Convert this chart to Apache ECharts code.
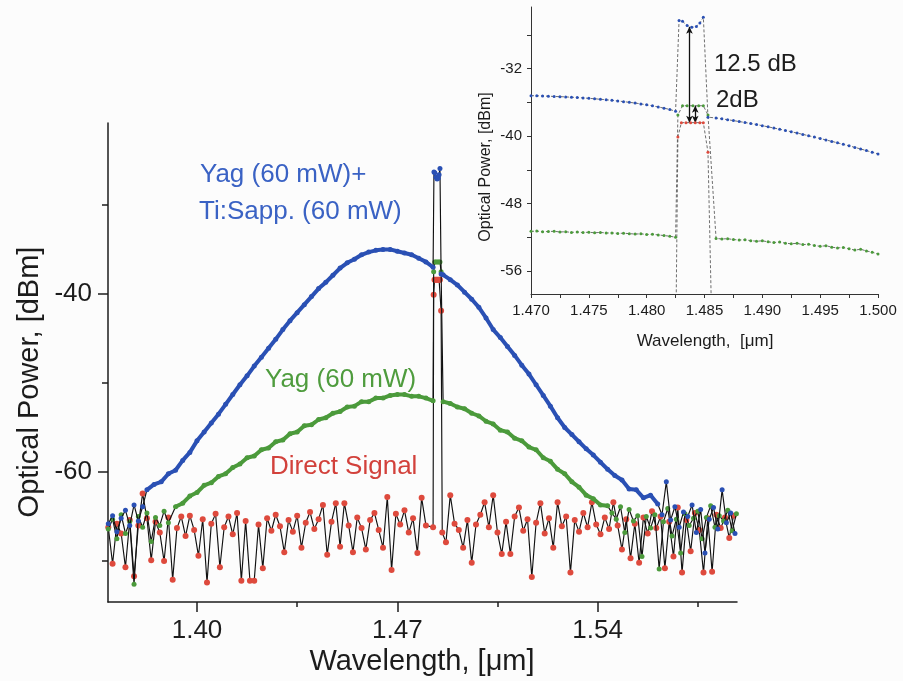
<!DOCTYPE html>
<html>
<head>
<meta charset="utf-8">
<script src="https://cdn.jsdelivr.net/npm/echarts@6/dist/echarts.min.js"></script>
<style>
  html, body { margin: 0; padding: 0; background: #fcfcfc; }
  #chart { width: 903px; height: 681px; }
</style>
</head>
<body>
<div id="chart"></div>
<script>
// ---- Measured spectra (wavelength in µm, power in dBm) ----
// Sampled traces are stored as start wavelength, step and readings.

// Direct signal (pump off): noise floor left and right of the signal line
const redNoiseL = { start: 1.3690, step: 0.0015, values: [
  -66.2, -70.3, -65.8, -66.9, -70.7, -65.4, -71.7, -66.0, -62.4, -65.2,
  -69.9, -65.6, -66.8, -70.0, -65.1, -72.1, -66.3, -65.0, -67.2, -64.9,
  -66.5, -69.4, -65.3, -72.4, -65.8, -64.7, -70.7, -66.2, -65.0, -67.0,
  -64.6, -72.2, -65.5, -72.2, -72.2, -65.9, -70.8, -65.2, -66.6, -64.8,
  -66.1, -69.0, -65.4, -66.7, -64.9, -68.5, -65.7, -64.5, -66.4, -65.3,
  -63.7, -69.3, -65.6, -63.5, -68.4, -63.5, -66.0, -69.0, -65.1, -66.3,
  -68.7, -65.4, -64.6, -66.5, -68.5, -62.8, -71.0, -64.7, -65.9, -64.3,
  -66.8, -65.2, -69.1, -62.9, -66.0 ] };
const redNoiseR = { start: 1.4870, step: 0.0015, values: [
  -67.9, -62.6, -65.8, -66.5, -68.5, -65.4, -70.2, -65.9, -64.8, -63.4,
  -66.2, -62.6, -66.8, -69.2, -65.6, -69.2, -65.0, -64.0, -66.6, -65.3,
  -71.8, -65.7, -63.5, -66.9, -65.2, -68.5, -63.4, -66.1, -65.0, -71.3,
  -65.4, -66.7, -64.6, -66.2, -63.4, -65.9, -67.0, -65.1, -66.4, -63.4,
  -66.0, -68.7, -65.3, -69.7, -65.8, -70.2, -65.1, -66.9, -64.4, -66.3,
  -65.0, -70.8, -65.6, -69.5, -64.0, -71.3, -65.4, -68.9, -64.6, -66.5,
  -71.3, -65.2, -71.2, -64.8, -66.3, -65.1, -67.4, -64.9 ] };
const redSignal = [
  [1.4825, -66.2], [1.4827, -40.1], [1.4830, -38.4], [1.4834, -38.4],
  [1.4838, -38.4], [1.4842, -38.4], [1.4846, -38.4], [1.4849, -38.4],
  [1.4853, -41.9], [1.4857, -66.8] ];

// Yag (60 mW) pumped
const greenNoiseL = { start: 1.3690, step: 0.0015, values: [
  -66.4, -65.3, -67.5, -64.8, -66.9, -65.6, -72.6, -65.0, -66.2, -64.6,
  -67.8, -65.1, -66.0, -64.4, -65.7 ] };
const greenCurveL = { start: 1.3925, step: 0.0025, values: [
  -63.9, -63.5, -62.7, -62.3, -61.5, -61.2, -60.5, -60.2, -59.5, -59.1,
  -58.4, -58.2, -57.5, -57.3, -56.6, -56.4, -55.7, -55.5, -54.8, -54.7,
  -54.1, -53.9, -53.4, -53.2, -52.7, -52.6, -52.1, -52.1, -51.7, -51.7,
  -51.4, -51.3, -51.3, -51.5, -51.5, -51.7, -52.0 ] };
const greenSignal = [
  [1.4827, -37.5], [1.4831, -36.4], [1.4835, -36.4], [1.4840, -36.4],
  [1.4845, -36.4], [1.4849, -36.4], [1.4853, -37.5] ];
const greenCurveR = { start: 1.4860, step: 0.0025, values: [
  -52.1, -52.3, -52.7, -52.9, -53.4, -53.7, -54.3, -54.6, -55.3, -55.5,
  -56.2, -56.5, -57.2, -57.5, -58.4, -58.8, -59.7, -60.2, -61.1, -61.7,
  -62.6, -63.0, -63.7, -63.8 ] };
const greenNoiseR = { start: 1.5450, step: 0.0015, values: [
  -64.6, -65.3, -63.9, -66.8, -64.2, -65.5, -64.9, -69.5, -65.0, -66.3,
  -64.8, -70.9, -65.6, -64.1, -67.2, -65.3, -69.1, -64.7, -66.0, -65.2,
  -64.4, -67.5, -65.1, -63.8, -66.2, -64.9, -65.5, -64.3, -66.6, -64.7 ] };

// Yag (60 mW) + Ti:Sapp. (60 mW) pumped
const blueNoiseL = { start: 1.3690, step: 0.0015, values: [
  -65.8, -64.9, -66.7, -65.2, -64.3, -66.0, -63.7, -65.5, -63.9 ] };
const blueCurveL = { start: 1.3825, step: 0.0025, values: [
  -62.0, -61.4, -61.1, -60.2, -59.8, -58.7, -57.8, -56.5, -55.5, -54.5,
  -53.5, -52.4, -51.3, -50.2, -49.2, -48.1, -47.1, -46.1, -45.1, -44.0,
  -43.0, -42.1, -41.2, -40.3, -39.4, -38.7, -37.9, -37.1, -36.5, -36.1,
  -35.6, -35.3, -35.1, -35.0, -35.0, -35.2, -35.4, -35.6, -36.0, -36.4,
  -37.0 ] };
const blueSignal = [
  [1.4828, -26.3], [1.4831, -26.4], [1.4835, -26.9], [1.4839, -27.1],
  [1.4843, -27.0], [1.4846, -26.6], [1.4849, -25.9], [1.4853, -37.75] ];
const blueCurveR = { start: 1.4860, step: 0.0025, values: [
  -37.85, -38.4, -39.0, -39.8, -40.6, -41.5, -42.7, -44.0, -44.9, -45.9,
  -46.9, -48.0, -49.0, -50.2, -51.4, -52.6, -53.9, -55.0, -55.8, -56.6,
  -57.4, -58.1, -58.9, -59.7, -60.4, -60.9, -61.9, -62.0, -62.9, -62.6,
  -63.6 ] };
const blueNoiseR = { start: 1.5625, step: 0.0015, values: [
  -64.8, -61.1, -65.4, -63.9, -66.2, -64.5, -65.0, -63.7, -66.8, -64.2,
  -69.1, -65.3, -64.0, -66.4, -62.0, -65.7, -64.6, -66.9 ] };

// Close-up around the signal line (finer sampling)
const insetBlueL = { start: 1.4700, step: 0.0005, values: [
  -35.20, -35.22, -35.25, -35.26, -35.30, -35.32, -35.35, -35.39, -35.42, -35.47,
  -35.52, -35.57, -35.63, -35.69, -35.76, -35.83, -35.91, -35.99, -36.08, -36.18,
  -36.29, -36.41, -36.54, -36.68, -36.84, -37.05 ] };
const insetBlueR = { start: 1.4860, step: 0.0005, values: [
  -37.85, -37.95, -38.05, -38.16, -38.27, -38.38, -38.50, -38.63, -38.76, -38.90,
  -39.04, -39.18, -39.33, -39.48, -39.63, -39.79, -39.95, -40.11, -40.28, -40.45,
  -40.62, -40.79, -40.97, -41.15, -41.33, -41.52, -41.71, -41.90, -42.10 ] };
const insetGreenL = { start: 1.4700, step: 0.0005, values: [
  -51.28, -51.25, -51.32, -51.30, -51.27, -51.35, -51.33, -51.40, -51.36, -51.42,
  -51.38, -51.45, -51.40, -51.48, -51.46, -51.52, -51.50, -51.55, -51.60, -51.57,
  -51.65, -51.62, -51.70, -51.78, -51.85, -51.98 ] };
const insetGreenR = { start: 1.4860, step: 0.0005, values: [
  -52.12, -52.18, -52.15, -52.25, -52.30, -52.28, -52.38, -52.45, -52.40, -52.52,
  -52.60, -52.55, -52.68, -52.75, -52.70, -52.85, -52.80, -52.95, -53.05, -52.98,
  -53.15, -53.25, -53.18, -53.35, -53.50, -53.40, -53.60, -53.75, -53.95 ] };

// Annotated levels: direct-signal top, gain arrows
const redTop = -38.4;
const gainTotal = 12.5;   // dB, to the Yag + Ti:Sapp. peak
const gainYag = 2;        // dB, to the Yag-only level
const arrowLongX = 1.4837;
const arrowShortX = 1.4842;
const blueAtArrow = -27.05;

// Axis ticks and labels
const mainXLabels = [1.40, 1.47, 1.54];
const mainXMinor = [1.435, 1.505, 1.575];
const mainYLabels = [-60, -40];
const mainYMinor = [-70, -50, -30];
const insetXTicks = [1.470, 1.4725, 1.475, 1.4775, 1.480, 1.4825, 1.485, 1.4875, 1.490, 1.4925, 1.495, 1.4975, 1.500];
const insetXLabels = [1.470, 1.475, 1.480, 1.485, 1.490, 1.495, 1.500];
const insetYTicks = [-56, -52, -48, -44, -40, -36, -32, -28];
const insetYLabels = [-56, -48, -40, -32];

// ---- Helpers ----
function pairs(trace) {
  return trace.values.map((v, i) => [+(trace.start + i * trace.step).toFixed(5), v]);
}

const FONT = '"Liberation Sans", Arial, Helvetica, sans-serif';
const INK = '#1c1c1c';
const BLUE = '#2a50b4';
const GREEN = '#4b9a3b';
const RED = '#de4a3d';
const BLUE_TXT = '#3a62c4';
const GREEN_TXT = '#4f9c3e';
const RED_TXT = '#d2413b';

const redMain = pairs(redNoiseL).concat(redSignal, pairs(redNoiseR));
const greenMain = pairs(greenNoiseL).concat(pairs(greenCurveL), greenSignal, pairs(greenCurveR), pairs(greenNoiseR));
const blueMain = pairs(blueNoiseL).concat(pairs(blueCurveL), blueSignal, pairs(blueCurveR), pairs(blueNoiseR));

const insetBlue = pairs(insetBlueL).concat(blueSignal, pairs(insetBlueR));
const insetGreen = pairs(insetGreenL).concat(greenSignal, pairs(insetGreenR));

function trace(data, color, size, z) {
  return {
    type: 'line', xAxisIndex: 0, yAxisIndex: 0, data: data, z: z,
    symbol: 'circle', symbolSize: size, showAllSymbol: true,
    itemStyle: { color: color, borderWidth: 0 },
    lineStyle: { color: '#111', width: 1.15 },
    animation: false, silent: true
  };
}
function curve(data, color, z) {
  return {
    type: 'line', xAxisIndex: 0, yAxisIndex: 0, data: data, z: z,
    showSymbol: false, lineStyle: { color: color, width: 4 },
    animation: false, silent: true
  };
}
function zoomTrace(data, color, extra) {
  return Object.assign({
    type: 'line', xAxisIndex: 2, yAxisIndex: 2, data: data, z: 5,
    symbol: 'circle', symbolSize: 3, showAllSymbol: true,
    itemStyle: { color: color, borderWidth: 0 },
    lineStyle: { color: '#4a4a4a', width: 0.8, type: [3, 2] },
    animation: false, silent: true
  }, extra || {});
}

function text(x, y, str, size, color, rotate, align) {
  return {
    type: 'text', x: x, y: y, rotation: rotate ? Math.PI / 2 : 0, z: 10,
    style: {
      text: str, font: size + 'px ' + FONT, fill: color,
      align: align || 'center', verticalAlign: 'middle',
      textAlign: align || 'center', textVerticalAlign: 'middle'
    }
  };
}

const axisLineMain = { show: true, lineStyle: { color: INK, width: 1.5 } };
const axisLineInset = { show: true, lineStyle: { color: '#333', width: 1 } };

const option = {
  backgroundColor: '#fcfcfc',
  animation: false,
  grid: [
    { left: 108, top: 123, width: 629, height: 479 },
    { left: 531, top: 7, width: 347, height: 287 }
  ],
  xAxis: [
    { type: 'value', gridIndex: 0, min: 1.3689, max: 1.5887, position: 'bottom',
      axisLine: axisLineMain,
      axisTick: { customValues: mainXLabels, length: 10, lineStyle: { color: INK, width: 1.5 } },
      axisLabel: { customValues: mainXLabels, formatter: v => v.toFixed(2), fontSize: 26,
                   fontFamily: FONT, color: INK, margin: 16 },
      splitLine: { show: false } },
    { type: 'value', gridIndex: 0, min: 1.3689, max: 1.5887, position: 'bottom',
      axisLine: { show: false },
      axisTick: { customValues: mainXMinor, length: 5, lineStyle: { color: INK, width: 1.5 } },
      axisLabel: { show: false }, splitLine: { show: false } },
    { type: 'value', gridIndex: 1, min: 1.470, max: 1.500, position: 'bottom',
      axisLine: axisLineInset,
      axisTick: { customValues: insetXTicks, length: 4, lineStyle: { color: '#333' } },
      axisLabel: { customValues: insetXLabels, formatter: v => v.toFixed(3), fontSize: 15,
                   fontFamily: FONT, color: INK, margin: 9 },
      splitLine: { show: false } }
  ],
  yAxis: [
    { type: 'value', gridIndex: 0, min: -74.6, max: -20.8, position: 'left',
      axisLine: axisLineMain,
      axisTick: { customValues: mainYLabels, length: 10, lineStyle: { color: INK, width: 1.5 } },
      axisLabel: { customValues: mainYLabels, fontSize: 26, fontFamily: FONT, color: INK, margin: 16 },
      splitLine: { show: false } },
    { type: 'value', gridIndex: 0, min: -74.6, max: -20.8, position: 'left',
      axisLine: { show: false },
      axisTick: { customValues: mainYMinor, length: 6, lineStyle: { color: INK, width: 1.5 } },
      axisLabel: { show: false }, splitLine: { show: false } },
    { type: 'value', gridIndex: 1, min: -58.7, max: -24.7, position: 'left',
      axisLine: axisLineInset,
      axisTick: { customValues: insetYTicks, length: 4, lineStyle: { color: '#333' } },
      axisLabel: { customValues: insetYLabels, fontSize: 15, fontFamily: FONT, color: INK, margin: 9 },
      splitLine: { show: false } }
  ],
  series: [
    trace(redMain, RED, 6, 2),
    trace(greenMain, GREEN, 5, 3),
    curve(pairs(greenCurveL), GREEN, 4),
    curve(pairs(greenCurveR), GREEN, 4),
    trace(blueMain, BLUE, 5, 5),
    curve(pairs(blueCurveL), BLUE, 6),
    curve(pairs(blueCurveR), BLUE, 6),

    zoomTrace(insetGreen, GREEN),
    zoomTrace(insetBlue, BLUE),
    zoomTrace(redSignal, RED, {
      markLine: {
        silent: true, animation: false,
        symbol: ['arrow', 'arrow'], symbolSize: [5, 7],
        lineStyle: { color: '#111', width: 1.3, type: 'solid' },
        label: { show: false },
        data: [
          [{ coord: [arrowLongX, redTop] }, { coord: [arrowLongX, blueAtArrow] }],
          [{ coord: [arrowShortX, redTop] }, { coord: [arrowShortX, redTop + gainYag] }]
        ]
      }
    })
  ],
  graphic: [
    text(30, 382, 'Optical Power, [dBm]', 29, INK, true),
    text(422, 662, 'Wavelength, [μm]', 29, INK),
    text(486, 167, 'Optical Power, [dBm]', 16, INK, true),
    text(705, 341, 'Wavelength,  [μm]', 17, INK),
    text(200, 175, 'Yag (60 mW)+', 26, BLUE_TXT, false, 'left'),
    text(199, 212, 'Ti:Sapp. (60 mW)', 26, BLUE_TXT, false, 'left'),
    text(265, 380, 'Yag (60 mW)', 26, GREEN_TXT, false, 'left'),
    text(270, 467, 'Direct Signal', 26, RED_TXT, false, 'left'),
    text(714, 64, gainTotal + ' dB', 24, INK, false, 'left'),
    text(716, 100, gainYag + 'dB', 24, INK, false, 'left')
  ]
};

const chart = echarts.init(document.getElementById('chart'), null, { renderer: 'canvas' });
chart.setOption(option);
</script>
</body>
</html>
